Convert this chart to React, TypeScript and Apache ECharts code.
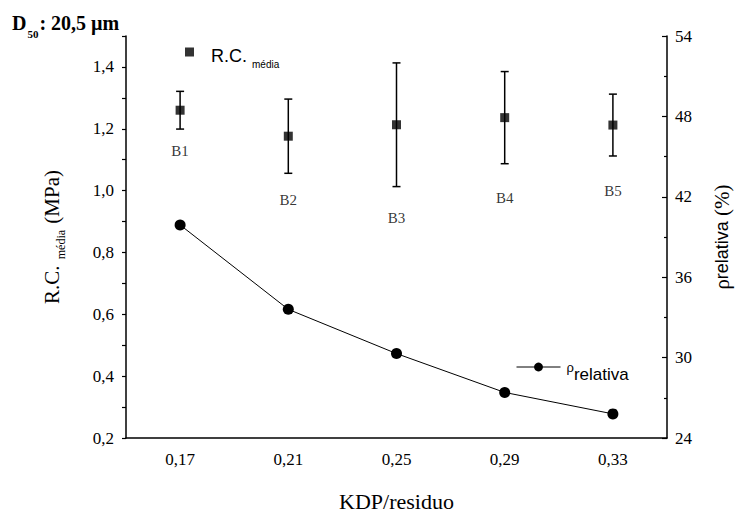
import React, { useEffect, useRef } from "react";
import * as echarts from "echarts";

// ---- data ----
const kdp = [0.17, 0.21, 0.25, 0.29, 0.33];
const xTicks = [0.17, 0.21, 0.25, 0.29, 0.33];
const batchNames = ["B1", "B2", "B3", "B4", "B5"];
const rcMean = [1.26, 1.176, 1.213, 1.236, 1.212];
const rcError = [0.061, 0.12, 0.2, 0.149, 0.1];
const batchLabelAt = [1.127, 0.97, 0.912, 0.976, 0.998];
const rhoRel = [39.9, 33.6, 30.3, 27.4, 25.8];

const SERIF = "Liberation Serif";
const SANS = "Liberation Sans";

export default function App() {
  const ref = useRef<HTMLDivElement>(null);

  useEffect(() => {
    document.body.style.margin = "0";
    if (!ref.current) return;
    const chart = echarts.init(ref.current, null, { renderer: "svg" });

    const option: any = {
      animation: false,
      backgroundColor: "#ffffff",
      title: {
        text: "{d|D}{s|50}{d|: 20,5 µm}",
        left: 7,
        top: 8,
        textStyle: {
          fontFamily: SERIF,
          rich: {
            d: { fontFamily: SERIF, fontWeight: "bold", fontSize: 20, color: "#000", lineHeight: 22, verticalAlign: "top" },
            s: { fontFamily: SERIF, fontWeight: "bold", fontSize: 11, color: "#000", lineHeight: 12, padding: [15, 1, 0, 1], verticalAlign: "top" },
          },
        },
      },
      grid: { left: 126, right: 76, top: 36, bottom: 74, containLabel: false },
      legend: [
        {
          data: [{ name: "R.C. média", icon: "rect" }],
          left: 180,
          top: 38,
          itemWidth: 9,
          itemHeight: 9,
          selectedMode: false,
          formatter: () => "{a|R.C.}{s|média}",
          textStyle: {
            fontFamily: SANS,
            rich: {
              a: { fontFamily: SANS, fontSize: 18, color: "#000", lineHeight: 18, padding: [4, 2, 0, 12], verticalAlign: "top" },
              s: { fontFamily: SANS, fontSize: 10, color: "#000", lineHeight: 12, padding: [16, 0, 0, 3], verticalAlign: "top" },
            },
          },
        },
        {
          data: ["ρrelativa"],
          left: 511,
          top: 353,
          itemWidth: 44,
          itemHeight: 11,
          selectedMode: false,
          lineStyle: { width: 1, color: "#000" },
          itemStyle: { color: "#000" },
          formatter: () => "{g|ρ}{r|relativa}",
          textStyle: {
            fontFamily: SANS,
            rich: {
              g: { fontFamily: SANS, fontSize: 13, color: "#000", lineHeight: 14, padding: [3, 0, 0, 1], verticalAlign: "top" },
              r: { fontFamily: SANS, fontSize: 17, color: "#000", lineHeight: 18, padding: [8, 0, 0, 0], verticalAlign: "top" },
            },
          },
        },
      ],
      xAxis: {
        type: "value",
        min: 0.15,
        max: 0.35,
        axisLine: { show: true, lineStyle: { color: "#000", width: 1.5 } },
        axisTick: { show: false },
        splitLine: { show: false },
        axisLabel: {
          customValues: xTicks,
          formatter: (v: number) => v.toFixed(2).replace(".", ","),
          fontFamily: SERIF,
          fontSize: 17,
          color: "#000",
          margin: 13,
        },
        name: "KDP/residuo",
        nameLocation: "middle",
        nameGap: 52,
        nameTextStyle: { fontFamily: SERIF, fontSize: 22, color: "#000" },
      },
      yAxis: [
        {
          type: "value",
          position: "left",
          min: 0.2,
          max: 1.5,
          interval: 0.1,
          axisLine: { show: true, lineStyle: { color: "#000", width: 1.5 } },
          axisTick: { show: true, length: 4, lineStyle: { color: "#000", width: 1.2 } },
          splitLine: { show: false },
          axisLabel: {
            formatter: (v: number) => (Math.round(v * 10) % 2 === 0 ? v.toFixed(1).replace(".", ",") : ""),
            fontFamily: SERIF,
            fontSize: 17,
            color: "#000",
            margin: 12,
          },
          name: "{a|R.C. }{s|média}{a| (MPa)}",
          nameLocation: "middle",
          nameRotate: 90,
          nameGap: 63,
          nameTextStyle: {
            fontFamily: SERIF,
            rich: {
              a: { fontFamily: SERIF, fontSize: 21, color: "#000", lineHeight: 22, verticalAlign: "top" },
              s: { fontFamily: SERIF, fontSize: 12, color: "#000", lineHeight: 12, padding: [14, 1, 0, 1], verticalAlign: "top" },
            },
          },
        },
        {
          type: "value",
          position: "right",
          min: 24,
          max: 54,
          interval: 6,
          axisLine: { show: true, lineStyle: { color: "#000", width: 1.5 } },
          axisTick: { show: true, inside: true, length: 5, lineStyle: { color: "#000", width: 1.2 } },
          minorTick: { show: true, splitNumber: 2, length: 3, lineStyle: { color: "#000", width: 1.2 } },
          splitLine: { show: false },
          minorSplitLine: { show: false },
          axisLabel: { fontFamily: SERIF, fontSize: 17, color: "#000", margin: 8 },
          name: "{g|ρ}{r|relativa}{g| (%)}",
          nameLocation: "middle",
          nameRotate: 90,
          nameGap: 44,
          nameTextStyle: {
            fontFamily: SERIF,
            rich: {
              g: { fontFamily: SERIF, fontSize: 21, color: "#000", lineHeight: 22 },
              r: { fontFamily: SANS, fontSize: 18, color: "#000", lineHeight: 22 },
            },
          },
        },
      ],
      series: [
        {
          type: "custom",
          name: "erro",
          yAxisIndex: 0,
          silent: true,
          z: 2,
          data: kdp.map((x, i) => [x, rcMean[i] - rcError[i], rcMean[i] + rcError[i]]),
          renderItem: (_params: any, api: any) => {
            const x = api.value(0);
            const lo = api.coord([x, api.value(1)]);
            const hi = api.coord([x, api.value(2)]);
            const w = 4;
            const st = { stroke: "#000", lineWidth: 1.5 };
            return {
              type: "group",
              children: [
                { type: "line", shape: { x1: lo[0], y1: lo[1], x2: hi[0], y2: hi[1] }, style: st },
                { type: "line", shape: { x1: lo[0] - w, y1: lo[1], x2: lo[0] + w, y2: lo[1] }, style: st },
                { type: "line", shape: { x1: hi[0] - w, y1: hi[1], x2: hi[0] + w, y2: hi[1] }, style: st },
              ],
            };
          },
        },
        {
          type: "scatter",
          name: "R.C. média",
          yAxisIndex: 0,
          symbol: "rect",
          symbolSize: 9,
          itemStyle: { color: "#000" },
          z: 3,
          data: kdp.map((x, i) => [x, rcMean[i]]),
        },
        {
          type: "scatter",
          name: "lotes",
          yAxisIndex: 0,
          symbolSize: 0,
          silent: true,
          label: {
            show: true,
            position: "inside",
            formatter: "{b}",
            fontFamily: SERIF,
            fontSize: 15,
            color: "#000",
          },
          data: kdp.map((x, i) => ({ name: batchNames[i], value: [x, batchLabelAt[i]] })),
        },
        {
          type: "line",
          name: "ρrelativa",
          yAxisIndex: 1,
          symbol: "circle",
          symbolSize: 11,
          lineStyle: { color: "#000", width: 1 },
          itemStyle: { color: "#000" },
          data: kdp.map((x, i) => [x, rhoRel[i]]),
        },
      ],
    };

    chart.setOption(option);
    return () => chart.dispose();
  }, []);

  return <div ref={ref} style={{ width: 743, height: 517 }} />;
}
